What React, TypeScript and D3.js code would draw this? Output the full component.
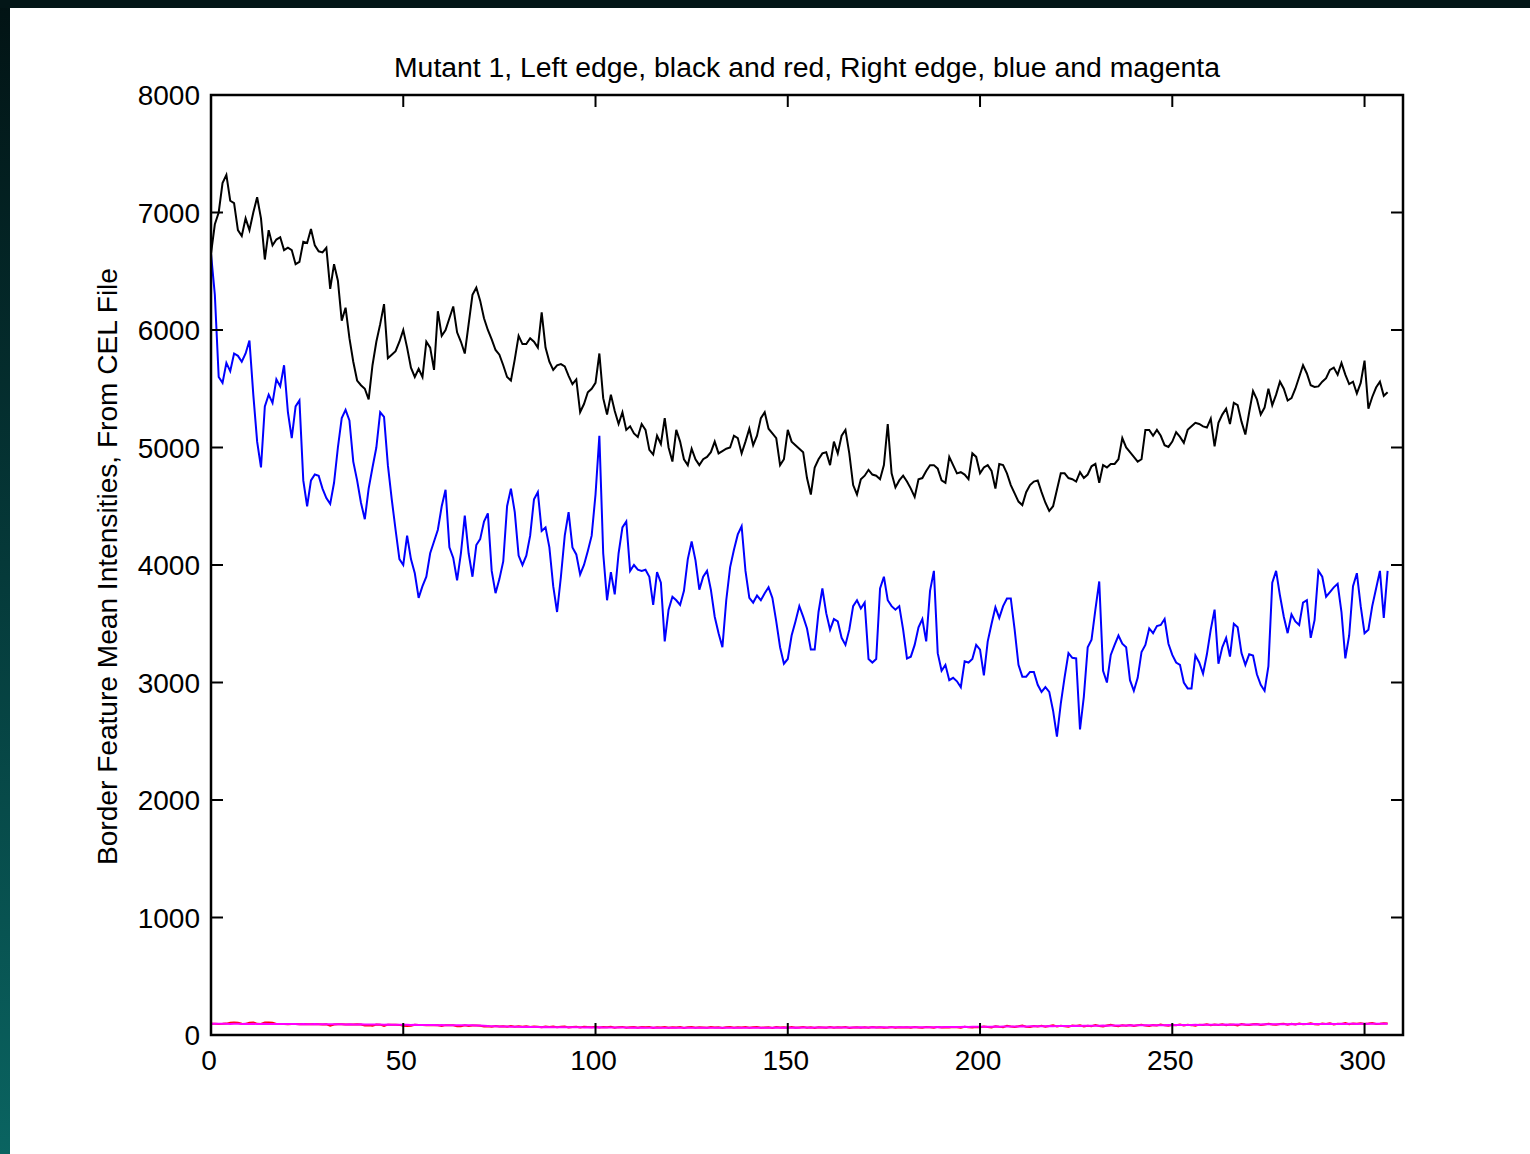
import React from "react";
import * as d3 from "d3";

// Border feature mean intensities along the array, one value per row index
const leftEdgeBlack = [
  6650, 6900, 7000, 7250, 7320, 7100, 7080, 6850, 6800, 6950,
  6850, 7000, 7130, 6950, 6600, 6850, 6720, 6770, 6790, 6680,
  6700, 6680, 6560, 6580, 6750, 6740, 6860, 6720, 6670, 6660,
  6700, 6350, 6560, 6420, 6080, 6190, 5930, 5730, 5570, 5530,
  5500, 5410, 5700, 5900, 6050, 6220, 5760, 5790, 5820, 5900,
  6000, 5850, 5680, 5600, 5670, 5600, 5900, 5850, 5660, 6160,
  5950, 6000, 6100, 6200, 5980, 5900, 5800, 6050, 6300, 6360,
  6250, 6100, 6000, 5920, 5830, 5790, 5700, 5600, 5570, 5750,
  5950, 5880, 5880, 5930, 5900, 5850, 6150, 5850, 5730, 5660,
  5700, 5710, 5690, 5610, 5540, 5580, 5300, 5370, 5470, 5500,
  5550, 5800, 5420, 5280, 5450, 5310, 5200, 5300, 5150, 5180,
  5120, 5090, 5200, 5150, 4980, 4940, 5100, 5030, 5250, 5000,
  4880, 5150, 5050, 4900, 4850, 4990, 4900, 4850, 4900, 4920,
  4960, 5050, 4950, 4970, 4990, 5000, 5100, 5080, 4950, 5050,
  5160, 5020, 5100, 5250, 5300, 5160, 5120, 5080, 4850, 4900,
  5150, 5050, 5020, 4990, 4960, 4740, 4600, 4830, 4900, 4950,
  4960, 4850, 5050, 4950, 5100, 5150, 4950, 4680, 4600, 4730,
  4760, 4810, 4770, 4760, 4730, 4850, 5200, 4780, 4660, 4720,
  4760, 4710, 4650, 4580, 4730, 4740, 4800, 4850, 4850, 4820,
  4720, 4700, 4920, 4850, 4780, 4790, 4770, 4730, 4950, 4920,
  4780, 4830, 4850, 4800, 4650, 4860, 4850, 4780, 4680, 4610,
  4540, 4510, 4620, 4680, 4710, 4720, 4620, 4530, 4460, 4500,
  4640, 4780, 4780, 4740, 4730, 4710, 4790, 4740, 4770, 4840,
  4860, 4700, 4850, 4830, 4860, 4860, 4900, 5080, 5000, 4960,
  4920, 4880, 4900, 5150, 5150, 5100, 5150, 5100, 5020, 5005,
  5050, 5130, 5090, 5040, 5150, 5180, 5210, 5200, 5180, 5170,
  5245, 5010, 5210, 5280, 5330, 5200, 5380, 5360, 5220, 5110,
  5300, 5480, 5410, 5280, 5340, 5500, 5360, 5450, 5560, 5500,
  5400, 5420, 5500, 5600, 5700, 5630, 5530, 5515, 5520, 5560,
  5590, 5660, 5680, 5620, 5720, 5620, 5540, 5560, 5460, 5550,
  5740, 5330, 5430, 5510, 5560, 5440, 5470,
];

const rightEdgeBlue = [
  6650, 6300, 5600, 5550, 5720, 5650, 5800, 5780, 5730, 5800,
  5910, 5450, 5050, 4830, 5350, 5450, 5380, 5580, 5520, 5700,
  5300, 5080, 5350, 5400, 4720, 4500, 4720, 4770, 4760, 4650,
  4570, 4520, 4700, 5000, 5250, 5320, 5230, 4880, 4720, 4530,
  4390, 4650, 4830, 5000, 5300, 5260, 4850, 4560, 4300, 4050,
  4000, 4250, 4050, 3930, 3720, 3820, 3900, 4100, 4200, 4300,
  4500, 4640, 4150, 4060, 3870, 4100, 4420, 4100, 3900, 4170,
  4220, 4370, 4440, 3950, 3760, 3880, 4030, 4500, 4650, 4450,
  4080, 4000, 4080, 4250, 4560, 4620, 4290, 4320, 4150, 3820,
  3600, 3900, 4250, 4450, 4150, 4090, 3920, 4000, 4120, 4250,
  4600, 5100, 4100, 3700, 3940, 3750, 4100, 4320, 4370, 3950,
  4000, 3960, 3950, 3960, 3900, 3660, 3940, 3850, 3350, 3620,
  3730, 3700, 3660, 3780, 4050, 4200, 4040, 3790, 3900, 3950,
  3790, 3560, 3420, 3300, 3700, 3980, 4130, 4260, 4330, 3950,
  3720, 3680, 3740, 3700, 3760, 3810, 3720, 3520, 3300, 3160,
  3200, 3400, 3520, 3650, 3560, 3460, 3280, 3280, 3600, 3800,
  3590, 3450, 3540, 3520, 3380, 3320, 3450, 3650, 3700, 3630,
  3680, 3200, 3170, 3200, 3800, 3900, 3700, 3650, 3620, 3650,
  3450, 3205, 3220, 3320, 3470, 3540, 3350, 3780, 3950, 3250,
  3100, 3150, 3020, 3040, 3010, 2960, 3180, 3170, 3200, 3320,
  3280, 3060, 3350, 3500, 3640, 3550, 3650, 3715, 3715, 3450,
  3150, 3050, 3050, 3090, 3090, 2980, 2920, 2960, 2920, 2760,
  2540, 2820, 3045, 3250, 3210, 3205, 2600, 2880, 3300, 3365,
  3620, 3860, 3100, 3000, 3235, 3320, 3400, 3330, 3300, 3020,
  2930, 3040, 3260, 3320, 3460, 3420, 3480, 3490, 3540, 3330,
  3235, 3170, 3150, 3000, 2950, 2950, 3230, 3170, 3075, 3240,
  3450, 3620, 3160, 3300, 3380, 3220, 3500, 3470, 3250, 3150,
  3240, 3230, 3070, 2980, 2930, 3140, 3850, 3950, 3740, 3560,
  3420, 3580, 3520, 3490, 3680, 3700, 3380, 3530, 3950, 3900,
  3730, 3770, 3810, 3840, 3600, 3205, 3400, 3820, 3930, 3650,
  3420, 3450, 3650, 3800, 3950, 3550, 3950,
];

const leftEdgeRed = [
  95, 96, 94, 95, 97, 104, 106, 105, 96, 94,
  105, 107, 95, 94, 106, 107, 105, 94, 93, 94,
  92, 93, 94, 92, 93, 91, 92, 93, 92, 90,
  91, 80, 90, 92, 91, 90, 90, 89, 91, 90,
  80, 82, 79, 89, 88, 78, 88, 87, 88, 86,
  78, 76, 79, 87, 86, 85, 84, 85, 84, 83,
  76, 84, 83, 82, 75, 74, 82, 76, 81, 80,
  79, 72, 74, 70, 77, 72, 75, 70, 76, 71,
  75, 70, 74, 68, 73, 70, 66, 72, 68, 73,
  66, 70, 72, 65, 69, 71, 64, 70, 68, 65,
  70, 63, 68, 66, 70, 62, 67, 69, 61, 66,
  68, 62, 67, 65, 69, 60, 66, 64, 68, 61,
  66, 63, 68, 60, 65, 67, 62, 66, 64, 61,
  67, 63, 65, 60, 66, 68, 62, 65, 63, 67,
  61, 65, 68, 62, 64, 66, 60, 67, 63, 65,
  62, 68, 61, 64, 67, 62, 65, 60, 66, 64,
  62, 67, 61, 65, 63, 68, 60, 64, 66, 62,
  65, 61, 67, 63, 66, 62, 64, 68, 61, 65,
  63, 66, 62, 68, 64, 61, 67, 65, 62, 69,
  64, 66, 63, 68, 65, 62, 70, 66, 64, 69,
  66, 73, 68, 64, 75, 70, 67, 78, 72, 69,
  74, 80, 71, 68, 77, 73, 79, 70, 76, 82,
  72, 78, 74, 70, 81, 76, 83, 73, 79, 75,
  84, 77, 72, 80, 86, 78, 74, 82, 79, 85,
  77, 83, 88, 80, 76, 84, 81, 89, 82, 78,
  86, 83, 90, 81, 87, 84, 79, 88, 85, 91,
  83, 89, 86, 92, 84, 90, 87, 82, 93, 88,
  85, 91, 94, 86, 89, 95, 90, 87, 93, 96,
  88, 95, 90, 98, 91, 94, 99, 92, 89, 97,
  93, 100, 90, 96, 94, 101, 92, 98, 95, 99,
  93, 97, 102, 94, 96, 100, 97,
];

const rightEdgeMagenta = [
  96, 95, 95, 96, 95, 94, 95, 95, 94, 95,
  94, 95, 94, 94, 95, 94, 93, 94, 94, 93,
  93, 94, 93, 92, 93, 92, 92, 93, 92, 91,
  92, 91, 91, 92, 91, 90, 91, 90, 90, 91,
  90, 89, 90, 89, 89, 88, 89, 88, 88, 87,
  88, 87, 86, 87, 86, 86, 85, 86, 85, 84,
  85, 84, 84, 83, 84, 83, 82, 83, 82, 81,
  80, 78, 76, 75, 74, 73, 72, 72, 71, 70,
  70, 69, 70, 69, 68, 68, 67, 68, 67, 66,
  66, 67, 66, 65, 66, 65, 65, 64, 65, 64,
  64, 65, 64, 63, 64, 63, 64, 63, 63, 62,
  63, 62, 63, 62, 62, 63, 62, 61, 62, 62,
  61, 62, 62, 61, 62, 61, 61, 62, 61, 62,
  61, 61, 62, 61, 62, 61, 61, 62, 62, 61,
  62, 61, 62, 62, 61, 62, 62, 63, 62, 62,
  63, 62, 63, 62, 63, 63, 62, 63, 63, 64,
  63, 63, 64, 63, 64, 64, 63, 64, 64, 65,
  64, 64, 65, 64, 65, 65, 64, 65, 66, 65,
  65, 66, 65, 66, 66, 67, 66, 67, 67, 68,
  67, 68, 68, 69, 68, 69, 70, 69, 70, 70,
  71, 70, 71, 71, 72, 71, 72, 73, 72, 73,
  73, 74, 73, 74, 75, 74, 75, 75, 76, 75,
  76, 77, 76, 77, 77, 78, 77, 78, 79, 78,
  79, 79, 80, 79, 80, 81, 80, 81, 81, 82,
  81, 82, 83, 82, 83, 83, 84, 83, 84, 85,
  84, 85, 85, 86, 85, 86, 87, 86, 87, 87,
  88, 87, 88, 88, 89, 88, 89, 89, 90, 89,
  90, 90, 91, 90, 91, 91, 92, 91, 92, 92,
  92, 93, 92, 93, 93, 94, 93, 94, 94, 93,
  94, 95, 94, 94, 95, 94, 95, 95, 94, 95,
  95, 96, 95, 95, 96, 95, 96,
];

const xTicks = [0, 50, 100, 150, 200, 250, 300];
const yTicks = [0, 1000, 2000, 3000, 4000, 5000, 6000, 7000, 8000];

const TITLE = "Mutant 1, Left edge, black and red, Right edge, blue and magenta";
const Y_LABEL = "Border Feature Mean Intensities, From CEL File";

const W = 1530;
const H = 1154;
const plot = { left: 211, right: 1403, top: 95, bottom: 1035 };
const FONT = "'Liberation Sans', Arial, Helvetica, sans-serif";

export default function App() {
  const x = d3.scaleLinear().domain([0, 310]).range([plot.left, plot.right]);
  const y = d3.scaleLinear().domain([0, 8000]).range([plot.bottom, plot.top]);

  const line = d3
    .line<number>()
    .x((_, i) => x(i))
    .y((d) => y(d));

  const series = [
    { values: leftEdgeBlack, color: "#000000" },
    { values: rightEdgeBlue, color: "#0000ff" },
    { values: leftEdgeRed, color: "#ff0000" },
    { values: rightEdgeMagenta, color: "#ff00ff" },
  ];

  const tickLen = 12;

  return (
    <svg
      width={W}
      height={H}
      style={{ position: "absolute", left: 0, top: 0, display: "block" }}
      fontFamily={FONT}
    >
      <defs>
        <linearGradient id="edgeGrad" x1="0" y1="0" x2="0" y2="1">
          <stop offset="0" stopColor="#021314" />
          <stop offset="0.5" stopColor="#053a3a" />
          <stop offset="1" stopColor="#0a6461" />
        </linearGradient>
      </defs>
      <rect x={0} y={0} width={W} height={H} fill="#ffffff" />
      <rect x={0} y={0} width={10} height={H} fill="url(#edgeGrad)" />
      <rect x={0} y={0} width={W} height={8} fill="#031617" />

      <text
        x={(plot.left + plot.right) / 2}
        y={77}
        fontSize={27}
        textAnchor="middle"
        textLength={826}
        lengthAdjust="spacingAndGlyphs"
        fill="#000"
      >
        {TITLE}
      </text>

      <text
        transform={`translate(117, ${(268 + 865) / 2}) rotate(-90)`}
        fontSize={27}
        textAnchor="middle"
        textLength={597}
        lengthAdjust="spacingAndGlyphs"
        fill="#000"
      >
        {Y_LABEL}
      </text>

      {series.map((s, k) => (
        <path
          key={k}
          d={line(s.values) ?? ""}
          fill="none"
          stroke={s.color}
          strokeWidth={2}
          strokeLinejoin="miter"
        />
      ))}

      {/* axis box */}
      <rect
        x={plot.left}
        y={plot.top}
        width={plot.right - plot.left}
        height={plot.bottom - plot.top}
        fill="none"
        stroke="#000"
        strokeWidth={2.5}
      />

      {yTicks.map((t) => (
        <g key={`y${t}`}>
          <line x1={plot.left} x2={plot.left + tickLen} y1={y(t)} y2={y(t)} stroke="#000" strokeWidth={2} />
          <line x1={plot.right} x2={plot.right - tickLen} y1={y(t)} y2={y(t)} stroke="#000" strokeWidth={2} />
          <text x={200} y={y(t) + 10} fontSize={28} textAnchor="end" fill="#000">
            {t}
          </text>
        </g>
      ))}

      {xTicks.map((t) => (
        <g key={`x${t}`}>
          <line x1={x(t)} x2={x(t)} y1={plot.bottom} y2={plot.bottom - tickLen} stroke="#000" strokeWidth={2} />
          <line x1={x(t)} x2={x(t)} y1={plot.top} y2={plot.top + tickLen} stroke="#000" strokeWidth={2} />
          <text x={x(t) - 2} y={1070} fontSize={28} textAnchor="middle" fill="#000">
            {t}
          </text>
        </g>
      ))}
    </svg>
  );
}
